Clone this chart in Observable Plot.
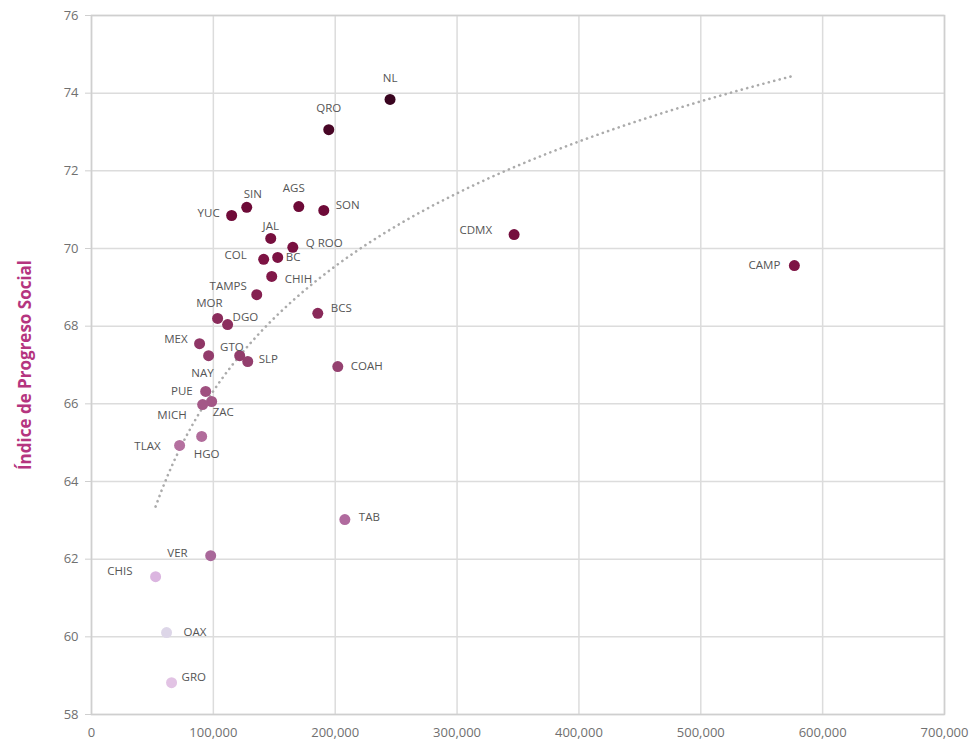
<!DOCTYPE html>
<html><head><meta charset="utf-8">
<script src="https://cdn.jsdelivr.net/npm/d3@7"></script>
<script src="https://cdn.jsdelivr.net/npm/@observablehq/plot@0.6"></script>
<style>
html,body{margin:0;padding:0;background:#fff;}
#chart{width:974px;height:745px;}
</style>
</head><body><div id="chart"></div>
<script>
const estados = ["NL","QRO","SIN","AGS","SON","YUC","JAL","Q ROO","COL","BC","CHIH","TAMPS","MOR","DGO","BCS","MEX","GTO","SLP","NAY","COAH","PUE","ZAC","MICH","HGO","TLAX","TAB","VER","CHIS","OAX","GRO","CDMX","CAMP"];
const pibPerCapita = [245000,194700,127400,170100,190600,115000,147100,165200,141300,152800,147900,135600,103500,111700,185700,88700,121600,128200,96100,202100,93700,98600,91200,90400,72300,207900,97800,52600,61600,65700,346800,576800];
const ips = [73.84,73.06,71.06,71.08,70.98,70.85,70.26,70.03,69.72,69.77,69.28,68.81,68.20,68.04,68.33,67.55,67.24,67.09,67.24,66.96,66.32,66.06,65.98,65.16,64.93,63.02,62.09,61.55,60.11,58.82,70.36,69.56];
const xTicks = [0,100000,200000,300000,400000,500000,600000,700000];
const yTicks = [58,60,62,64,66,68,70,72,74,76];

// label placement (style config): [dx, dy, anchor]
const placement = {
  "NL":[0,-21,"middle"],"QRO":[0,-21,"middle"],"SIN":[6,-13,"middle"],"AGS":[-5,-18,"middle"],
  "SON":[12,-5,"start"],"YUC":[-12,-2,"end"],"JAL":[0,-12,"middle"],"Q ROO":[13,-4,"start"],
  "COL":[-17,-4,"end"],"BC":[8,0,"start"],"CHIH":[13,3,"start"],"TAMPS":[-10,-8,"end"],
  "MOR":[5,-15,"end"],"DGO":[5,-7,"start"],"BCS":[13,-5,"start"],"MEX":[-12,-4,"end"],
  "GTO":[4,-8,"end"],"SLP":[11,-2,"start"],"NAY":[5,18,"end"],"COAH":[13,0,"start"],
  "PUE":[-13,0,"end"],"ZAC":[1,11,"start"],"MICH":[-16,11,"end"],"HGO":[-8,18,"start"],
  "TLAX":[-19,1,"end"],"TAB":[14,-2,"start"],"VER":[-23,-2,"end"],"CHIS":[-23,-5,"end"],
  "OAX":[17,0,"start"],"GRO":[10,-5,"start"],"CDMX":[-22,-4,"end"],"CAMP":[-14,0,"end"]
};

const data = estados.map((e,i)=>({estado:e, x:pibPerCapita[i], y:ips[i]}));

// logarithmic trend line fitted to the data
const lx = data.map(d=>Math.log(d.x)), ly = data.map(d=>d.y);
const mx = d3.mean(lx), my = d3.mean(ly);
const b = d3.sum(lx.map((v,i)=>(v-mx)*(ly[i]-my))) / d3.sum(lx.map(v=>(v-mx)**2));
const a = my - b*mx;
const x0 = d3.min(pibPerCapita), x1 = d3.max(pibPerCapita);
const trend = d3.range(0,101).map(k=>{const x = x0 + (x1-x0)*k/100; return {x, y:a+b*Math.log(x)};});

const colorScale = d3.scaleLinear()
  .domain([58.8, 60.1, 61.6, 62.0, 63, 65, 67, 69.5, 71, 73.8])
  .range(["#e2c3e4","#ddd6e8","#dbb4e0","#a8689a","#b06a9e","#b4709f","#94406f","#7f1445","#6e0a38","#3a0520"]);

const plot = Plot.plot({
  width: 974, height: 745,
  marginLeft: 91, marginRight: 30, marginTop: 15, marginBottom: 31,
  style: {fontFamily: "'Open Sans', sans-serif", background: "#fff"},
  x: {domain: [0,700000]},
  y: {domain: [58,76]},
  marks: [
    Plot.gridX(xTicks, {stroke:"#dcdcdc", strokeOpacity:1, strokeWidth:1.5}),
    Plot.gridY(yTicks, {stroke:"#dcdcdc", strokeOpacity:1, strokeWidth:1.5}),
    Plot.frame({stroke:"#cfcfcf", strokeWidth:1.5}),
    Plot.axisX(xTicks, {tickSize:0, tickPadding:13, tickFormat:d3.format(","), fontSize:13, fill:"#707070", label:null}),
    Plot.axisY(yTicks, {tickSize:6, tickPadding:7, stroke:"#cfcfcf", fontSize:13, fill:"#707070", label:null}),
    Plot.axisY([], {label:"Índice de Progreso Social", labelAnchor:"center", labelArrow:"none", labelOffset:73, tickSize:0, fill:"#b5357f", fontSize:17, fontWeight:"bold"}),
    Plot.line(trend, {x:"x", y:"y", stroke:"#ababab", strokeWidth:2.6, strokeDasharray:"0.1,5.5", strokeLinecap:"round"}),
    Plot.dot(data, {x:"x", y:"y", r:5.5, fill:d=>colorScale(d.y), stroke:"none"}),
    Plot.text(data, {x:"x", y:"y", text:"estado", fill:"#555", fontSize:11.5, render:(index, scales, values, dims, ctx, next)=>{
      const g = next(index, scales, values, dims, ctx);
      d3.select(g).selectAll("text").each(function(_,j){
        const i = index[j];
        const p = placement[data[i].estado];
        const s = d3.select(this);
        const old = s.attr("transform") || "";
        s.attr("transform", `${old} translate(${p[0]},${p[1]})`).attr("text-anchor", p[2]);
      });
      return g;
    }})
  ]
});
document.getElementById("chart").appendChild(plot);
</script>
</body></html>
